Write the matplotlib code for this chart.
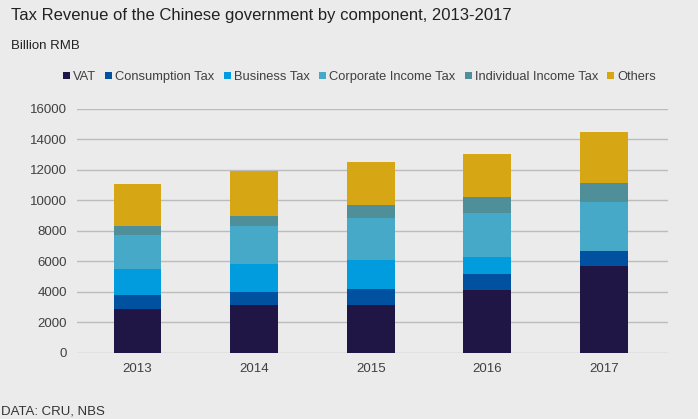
import matplotlib.pyplot as plt
import numpy as np

plt.rcParams['font.family'] = ['Liberation Sans', 'DejaVu Sans']

years = ['2013', '2014', '2015', '2016', '2017']
vat = [2889, 3129, 3129, 4114, 5667]
consumption = [875, 875, 1050, 1028, 985]
business = [1706, 1816, 1926, 1160, 0]
corporate = [2254, 2473, 2735, 2845, 3217]
individual = [613, 657, 854, 1050, 1247]
others = [2713, 2976, 2844, 2845, 3348]
series = [('VAT', vat, '#1f1646'), ('Consumption Tax', consumption, '#0052a0'),
          ('Business Tax', business, '#009cdd'), ('Corporate Income Tax', corporate, '#47a9c8'),
          ('Individual Income Tax', individual, '#4e8f99'), ('Others', others, '#d6a615')]

bg = '#ebebeb'
fig = plt.figure(figsize=(6.98, 4.19), dpi=100, facecolor=bg)
ax = fig.add_axes([0.11, 0.158, 0.847, 0.582], facecolor=bg)
x = np.arange(len(years))
bottom = np.zeros(len(years))
for name, vals, c in series:
    ax.bar(x, vals, 0.41, bottom=bottom, color=c, label=name, zorder=3)
    bottom += np.array(vals)
ax.set_ylim(0, 16000)
ax.set_yticks(range(0, 16001, 2000))
ax.set_xlim(-0.52, 4.55)
ax.set_xticks(x, years)
ax.grid(axis='y', color='#bcbcbc', linewidth=1, zorder=0)
for s in ax.spines.values():
    s.set_visible(False)
ax.tick_params(length=0, labelsize=9.5, colors='#404040', pad=7)
fig.text(0.016, 0.962, 'Tax Revenue of the Chinese government by component, 2013-2017', fontsize=12, color='#222222', va='center')
fig.text(0.016, 0.89, 'Billion RMB', fontsize=9.5, color='#222222', va='center')
fig.text(0.002, 0.018, 'DATA: CRU, NBS', fontsize=9.5, color='#333333', va='center')
fig.legend(loc='center', bbox_to_anchor=(0.515, 0.816), ncol=6, frameon=False, fontsize=9.3,
           handlelength=0.55, handleheight=0.55, handletextpad=0.25, columnspacing=0.7, labelcolor='#404040')
fig.savefig('out.png', dpi=100, facecolor=bg)
